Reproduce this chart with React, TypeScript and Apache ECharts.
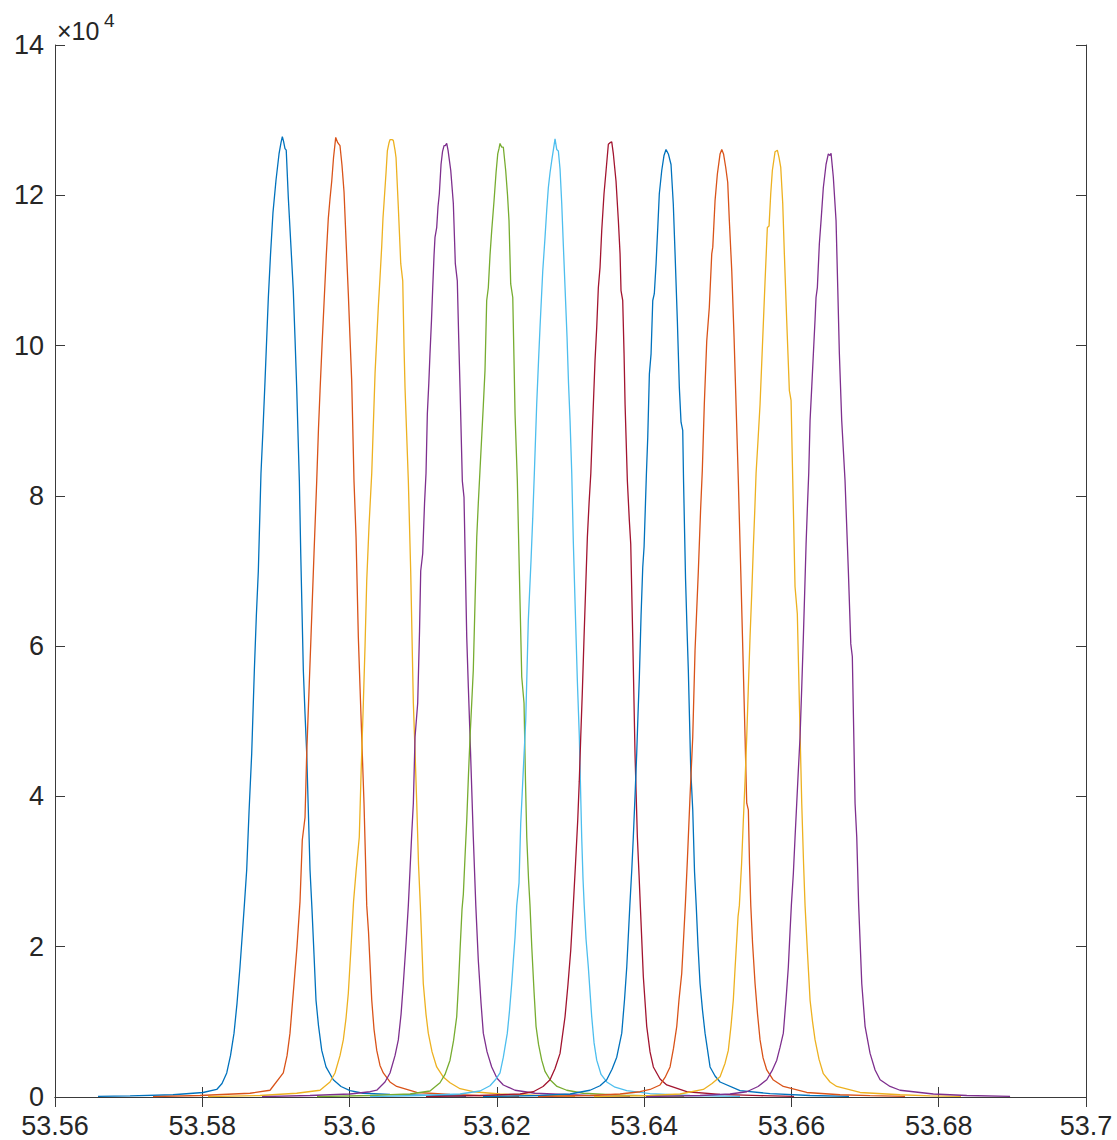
import React, { useEffect, useRef } from "react";
import * as echarts from "echarts";

const xTicks = { min: 53.56, max: 53.7, interval: 0.02 };
const yTicks = { min: 0, max: 140000, interval: 20000 };
const yScaleLabel = "×10";
const yScaleExp = "4";

const colors = ["#0072BD", "#D95319", "#EDB120", "#7E2F8E", "#77AC30", "#4DBEEE", "#A2142F", "#0072BD", "#D95319", "#EDB120", "#7E2F8E"];

const s1 = [[53.56584,80],[53.57019,150],[53.57602,300],[53.58010,600],[53.58196,1000],[53.58268,1800],[53.58332,3200],[53.58383,5500],[53.58431,8500],[53.58472,12500],[53.58512,17300],[53.58546,22000],[53.58571,25500],[53.58603,30200],[53.58635,38000],[53.58671,45700],[53.58707,56800],[53.58734,64000],[53.58761,70000],[53.58797,83000],[53.58825,89000],[53.58852,95300],[53.58875,101000],[53.58897,106400],[53.58926,112000],[53.58960,117700],[53.59001,122000],[53.59042,125500],[53.59069,127000],[53.59087,127800],[53.59103,127200],[53.59123,126200],[53.59140,126000],[53.59168,119700],[53.59205,113000],[53.59236,107300],[53.59259,101000],[53.59282,94400],[53.59318,82000],[53.59337,72300],[53.59372,56800],[53.59395,51000],[53.59418,45700],[53.59463,30200],[53.59490,24900],[53.59517,19000],[53.59544,12900],[53.59578,9500],[53.59622,6200],[53.59680,4000],[53.59779,2300],[53.59884,1400],[53.60006,850],[53.60183,500],[53.60549,350],[53.60957,250],[53.61581,100]];

const s2 = [[53.57331,50],[53.57969,200],[53.58648,500],[53.58920,900],[53.59100,3200],[53.59151,5500],[53.59191,8500],[53.59246,15100],[53.59286,20000],[53.59327,26000],[53.59358,34200],[53.59395,37200],[53.59418,45700],[53.59449,54000],[53.59476,61200],[53.59517,72300],[53.59554,82000],[53.59578,89000],[53.59599,94000],[53.59626,100000],[53.59653,105600],[53.59684,112000],[53.59711,116900],[53.59734,119500],[53.59758,121900],[53.59782,125000],[53.59812,127700],[53.59839,127000],[53.59870,126600],[53.59897,124000],[53.59925,120400],[53.59952,114000],[53.59983,106900],[53.60006,101000],[53.60029,95300],[53.60060,82000],[53.60088,74500],[53.60119,61200],[53.60142,54500],[53.60165,47900],[53.60196,39100],[53.60233,25500],[53.60257,22000],[53.60301,12900],[53.60332,9000],[53.60369,6200],[53.60413,4200],[53.60458,3200],[53.60549,2000],[53.60640,1400],[53.60912,600],[53.61364,350],[53.61771,200],[53.62301,100]];

const s3 = [[53.58078,50],[53.58784,200],[53.59282,500],[53.59599,900],[53.59734,2000],[53.59802,3200],[53.59870,5500],[53.59915,7600],[53.59952,10500],[53.59983,13800],[53.60020,20000],[53.60054,26000],[53.60088,30000],[53.60132,34600],[53.60159,44000],[53.60187,52400],[53.60210,60000],[53.60233,68700],[53.60264,76000],[53.60301,83000],[53.60346,96300],[53.60390,105100],[53.60413,109000],[53.60436,113100],[53.60454,117000],[53.60468,119000],[53.60495,123000],[53.60513,125900],[53.60536,127000],[53.60549,127400],[53.60576,127400],[53.60594,127300],[53.60617,126000],[53.60631,125000],[53.60662,118400],[53.60695,110900],[53.60722,108600],[53.60739,100000],[53.60753,94400],[53.60776,88000],[53.60798,82000],[53.60830,70000],[53.60866,52400],[53.60889,46000],[53.60912,39100],[53.60936,31000],[53.60961,25500],[53.61001,15100],[53.61038,11000],[53.61069,8500],[53.61120,6000],[53.61183,4000],[53.61269,2700],[53.61364,1900],[53.61500,1100],[53.61680,700],[53.62043,400],[53.62586,200],[53.63062,100]];

const s4 = [[53.58811,50],[53.59463,200],[53.60006,400],[53.60278,700],[53.60369,900],[53.60481,2000],[53.60549,3200],[53.60617,5500],[53.60662,7600],[53.60699,11000],[53.60730,15100],[53.60767,20500],[53.60798,25500],[53.60821,30200],[53.60844,35000],[53.60866,39100],[53.60889,47900],[53.60925,52400],[53.60950,62000],[53.60966,70000],[53.60993,72300],[53.61018,79000],[53.61038,83000],[53.61056,90900],[53.61076,95000],[53.61092,98900],[53.61113,103500],[53.61129,107700],[53.61147,112000],[53.61160,114400],[53.61183,115700],[53.61201,118500],[53.61219,120200],[53.61242,124100],[53.61262,125800],[53.61283,126600],[53.61300,126600],[53.61319,126900],[53.61337,126000],[53.61374,123300],[53.61409,118900],[53.61436,110900],[53.61463,108600],[53.61482,101000],[53.61500,94400],[53.61531,82000],[53.61554,79800],[53.61591,61200],[53.61613,54500],[53.61636,47900],[53.61680,34600],[53.61714,25500],[53.61748,18200],[53.61785,12500],[53.61816,8500],[53.61867,6000],[53.61930,4000],[53.62002,2500],[53.62088,1600],[53.62247,900],[53.62518,500],[53.62994,300],[53.63401,150],[53.63808,80]];

const s5 = [[53.59558,50],[53.60278,200],[53.60821,400],[53.61092,800],[53.61228,1900],[53.61296,3000],[53.61364,4900],[53.61412,7500],[53.61455,10700],[53.61479,15000],[53.61500,19500],[53.61527,25000],[53.61545,27000],[53.61568,32000],[53.61591,36800],[53.61615,43000],[53.61636,47900],[53.61659,52500],[53.61680,56800],[53.61704,66000],[53.61727,74500],[53.61748,79000],[53.61771,83400],[53.61794,87800],[53.61816,92000],[53.61839,96700],[53.61862,106000],[53.61884,107700],[53.61907,112000],[53.61930,115300],[53.61962,119300],[53.61989,123000],[53.62012,125500],[53.62029,126200],[53.62043,126900],[53.62066,126400],[53.62088,126400],[53.62120,123300],[53.62145,120000],[53.62165,116600],[53.62188,108200],[53.62216,106400],[53.62233,98000],[53.62247,90900],[53.62278,82000],[53.62305,70000],[53.62338,55900],[53.62369,52400],[53.62389,42000],[53.62406,34600],[53.62430,29000],[53.62450,25500],[53.62474,20000],[53.62505,14000],[53.62532,9400],[53.62566,7000],[53.62609,4900],[53.62654,3400],[53.62722,2300],[53.62817,1400],[53.62949,900],[53.63174,500],[53.63673,250],[53.64216,150],[53.64542,80]];

const s6 = [[53.60278,50],[53.60957,200],[53.61500,400],[53.61771,800],[53.61907,1500],[53.61989,2400],[53.62043,3200],[53.62088,5300],[53.62142,8500],[53.62172,11500],[53.62202,15100],[53.62226,18500],[53.62247,21300],[53.62270,25500],[53.62301,28500],[53.62324,36400],[53.62342,40000],[53.62359,43500],[53.62392,50100],[53.62427,63400],[53.62464,71400],[53.62487,77000],[53.62509,83000],[53.62541,92200],[53.62566,98000],[53.62586,102400],[53.62623,109900],[53.62654,114400],[53.62677,118000],[53.62699,121000],[53.62722,123000],[53.62745,124600],[53.62770,126200],[53.62790,127500],[53.62813,126100],[53.62835,125900],[53.62858,123500],[53.62881,118900],[53.62903,113300],[53.62926,107700],[53.62953,101100],[53.62973,95000],[53.62994,90000],[53.63017,83000],[53.63038,74000],[53.63062,65700],[53.63093,55400],[53.63120,47900],[53.63152,34600],[53.63170,29000],[53.63186,25500],[53.63211,21000],[53.63242,17300],[53.63288,10700],[53.63320,7200],[53.63356,4900],[53.63415,3000],[53.63492,2000],[53.63605,1300],[53.63764,850],[53.64080,450],[53.64623,200],[53.65302,80]];

const s7 = [[53.61038,50],[53.61771,200],[53.62315,400],[53.62495,700],[53.62627,1400],[53.62722,2300],[53.62790,3800],[53.62858,5800],[53.62926,10700],[53.62966,15000],[53.63003,19500],[53.63038,25500],[53.63068,31000],[53.63098,36800],[53.63119,42000],[53.63139,47900],[53.63161,54000],[53.63184,61200],[53.63207,68000],[53.63229,74500],[53.63252,79000],[53.63276,83000],[53.63302,90000],[53.63333,98000],[53.63356,102400],[53.63378,107700],[53.63401,110400],[53.63424,115300],[53.63455,120200],[53.63483,123300],[53.63514,126800],[53.63537,127000],[53.63560,127100],[53.63582,125500],[53.63618,121900],[53.63650,116600],[53.63673,112200],[53.63686,107300],[53.63709,106000],[53.63727,99000],[53.63741,92200],[53.63772,82000],[53.63799,76700],[53.63818,73600],[53.63845,61200],[53.63876,45700],[53.63908,34600],[53.63931,29500],[53.63948,25500],[53.63989,16000],[53.64035,9400],[53.64080,6000],[53.64125,4000],[53.64216,2400],[53.64307,1600],[53.64578,700],[53.65031,350],[53.65574,180],[53.66036,80]];

const s8 = [[53.61812,50],[53.62586,200],[53.62994,400],[53.63265,900],[53.63401,1500],[53.63492,2300],[53.63564,3700],[53.63628,5300],[53.63696,8500],[53.63734,13000],[53.63764,17300],[53.63788,22000],[53.63806,25500],[53.63832,30200],[53.63853,34600],[53.63876,40000],[53.63899,45700],[53.63917,51000],[53.63935,55900],[53.63958,64000],[53.63981,70500],[53.63999,73200],[53.64018,79000],[53.64031,83000],[53.64049,87800],[53.64071,96200],[53.64094,98900],[53.64117,106000],[53.64138,106900],[53.64162,110900],[53.64185,115700],[53.64206,120200],[53.64239,123300],[53.64270,125300],[53.64297,126100],[53.64329,125500],[53.64365,124100],[53.64396,118800],[53.64420,112200],[53.64451,103300],[53.64478,94400],[53.64501,89800],[53.64524,88700],[53.64535,82000],[53.64562,69000],[53.64583,62000],[53.64600,56800],[53.64633,43500],[53.64660,38200],[53.64684,30000],[53.64707,25500],[53.64732,20000],[53.64759,15100],[53.64793,11500],[53.64827,8500],[53.64895,4000],[53.64963,2800],[53.65031,2000],[53.65302,850],[53.65710,450],[53.66253,200],[53.66782,80]];

const s9 = [[53.62559,50],[53.63265,200],[53.63673,400],[53.63944,700],[53.64080,1000],[53.64216,1600],[53.64284,2600],[53.64352,4000],[53.64399,6500],[53.64443,9400],[53.64474,13000],[53.64510,16400],[53.64535,21000],[53.64559,25500],[53.64587,31500],[53.64623,40000],[53.64660,47900],[53.64691,59400],[53.64736,70000],[53.64766,78000],[53.64790,83400],[53.64817,92200],[53.64850,100600],[53.64885,105100],[53.64918,112200],[53.64932,113100],[53.64963,119300],[53.64994,122800],[53.65031,125500],[53.65054,126100],[53.65078,125500],[53.65108,123700],[53.65135,121700],[53.65157,116600],[53.65190,109900],[53.65221,101100],[53.65248,92200],[53.65279,82000],[53.65312,70000],[53.65347,56800],[53.65370,48000],[53.65393,39100],[53.65415,38200],[53.65431,31000],[53.65448,25500],[53.65472,20500],[53.65506,15100],[53.65540,11000],[53.65574,7600],[53.65615,5200],[53.65665,3600],[53.65750,2300],[53.65890,1400],[53.66208,600],[53.66660,300],[53.67068,180],[53.67543,80]];

const s10 = [[53.63320,50],[53.64080,200],[53.64487,400],[53.64804,1000],[53.64922,1800],[53.65031,2700],[53.65099,4500],[53.65143,6200],[53.65180,9500],[53.65211,12900],[53.65234,17000],[53.65257,20900],[53.65275,24000],[53.65293,25500],[53.65323,31000],[53.65347,36800],[53.65370,42000],[53.65393,47900],[53.65415,54500],[53.65438,61200],[53.65461,67000],[53.65483,73200],[53.65502,78000],[53.65520,83000],[53.65547,87500],[53.65574,92200],[53.65611,101100],[53.65642,108600],[53.65673,115700],[53.65696,115900],[53.65719,120200],[53.65741,123300],[53.65778,125800],[53.65809,126000],[53.65832,125000],[53.65855,123700],[53.65882,118900],[53.65904,112200],[53.65936,103300],[53.65972,94000],[53.65995,92700],[53.66018,82000],[53.66049,67900],[53.66080,64300],[53.66108,52400],[53.66140,39100],[53.66165,31000],[53.66185,25500],[53.66219,19000],[53.66253,12900],[53.66287,10000],[53.66321,7600],[53.66375,5000],[53.66433,3100],[53.66524,2000],[53.66615,1400],[53.66932,600],[53.67475,300],[53.67882,150],[53.68303,80]];

const s11 = [[53.64026,50],[53.64759,200],[53.65166,400],[53.65393,700],[53.65547,1400],[53.65665,2300],[53.65737,3500],[53.65801,4900],[53.65845,6600],[53.65890,8500],[53.65927,13000],[53.65958,17300],[53.65981,22000],[53.65999,25500],[53.66026,29700],[53.66049,34500],[53.66072,39100],[53.66094,43500],[53.66117,47900],[53.66140,54500],[53.66162,61200],[53.66181,67500],[53.66199,73600],[53.66219,79000],[53.66235,83000],[53.66253,90000],[53.66276,94500],[53.66298,98900],[53.66321,103500],[53.66334,106400],[53.66352,107700],[53.66379,113500],[53.66402,116600],[53.66433,121000],[53.66470,124100],[53.66501,125500],[53.66524,125300],[53.66538,125600],[53.66569,122400],[53.66606,116600],[53.66629,107700],[53.66651,98900],[53.66683,90000],[53.66728,82000],[53.66773,70000],[53.66806,60300],[53.66827,58600],[53.66864,39100],[53.66887,34600],[53.66913,25500],[53.66955,15100],[53.67000,9400],[53.67068,5800],[53.67136,3600],[53.67204,2300],[53.67339,1400],[53.67475,900],[53.67927,400],[53.68381,200],[53.68969,80]];

const seriesData = [s1, s2, s3, s4, s5, s6, s7, s8, s9, s10, s11];

const FONT = "'Liberation Sans', Arial, Helvetica, sans-serif";
const TEXT = "#262626";
const AXIS = "#3a3a3a";

export default function App() {
  const ref = useRef<HTMLDivElement>(null);
  useEffect(() => {
    if (!ref.current) return;
    const chart = echarts.init(ref.current, null, { renderer: "svg" });
    const axisLine = { show: true, lineStyle: { color: AXIS, width: 1 } };
    const tick = { show: true, inside: true, length: 10, lineStyle: { color: AXIS, width: 1 } };
    const fmtX = (v: number) => String(parseFloat(v.toFixed(2)));
    const fmtY = (v: number) => String(Math.round(v / 10000));
    chart.setOption({
      animation: false,
      backgroundColor: "#ffffff",
      grid: { left: 55, right: 31, top: 45, bottom: 43, containLabel: false },
      xAxis: [
        {
          type: "value", position: "bottom", ...xTicks,
          axisLine, axisTick: tick, splitLine: { show: false },
          axisLabel: { formatter: fmtX, color: TEXT, fontSize: 27, fontFamily: FONT, margin: 15 },
        },
        {
          type: "value", position: "top", ...xTicks,
          axisLine, axisTick: tick, splitLine: { show: false }, axisLabel: { show: false },
        },
      ],
      yAxis: [
        {
          type: "value", position: "left", ...yTicks,
          axisLine, axisTick: tick, splitLine: { show: false },
          axisLabel: { formatter: fmtY, color: TEXT, fontSize: 27, fontFamily: FONT, margin: 11 },
        },
        {
          type: "value", position: "right", ...yTicks,
          axisLine, axisTick: tick, splitLine: { show: false }, axisLabel: { show: false },
        },
      ],
      graphic: [
        { type: "text", x: 57, y: 31, style: { text: yScaleLabel, fontSize: 25, fontFamily: FONT, fill: TEXT, verticalAlign: "middle" } },
        { type: "text", x: 104, y: 20, style: { text: yScaleExp, fontSize: 19, fontFamily: FONT, fill: TEXT, verticalAlign: "middle" } },
      ],
      series: seriesData.map((d, i) => ({
        type: "line",
        data: d,
        xAxisIndex: 0,
        yAxisIndex: 0,
        showSymbol: false,
        symbol: "none",
        smooth: false,
        lineStyle: { color: colors[i], width: 1.3 },
        itemStyle: { color: colors[i] },
        z: 2 + i,
      })),
    });
    return () => chart.dispose();
  }, []);
  return <div ref={ref} style={{ position: "absolute", left: 0, top: 0, width: 1117, height: 1140 }} />;
}
